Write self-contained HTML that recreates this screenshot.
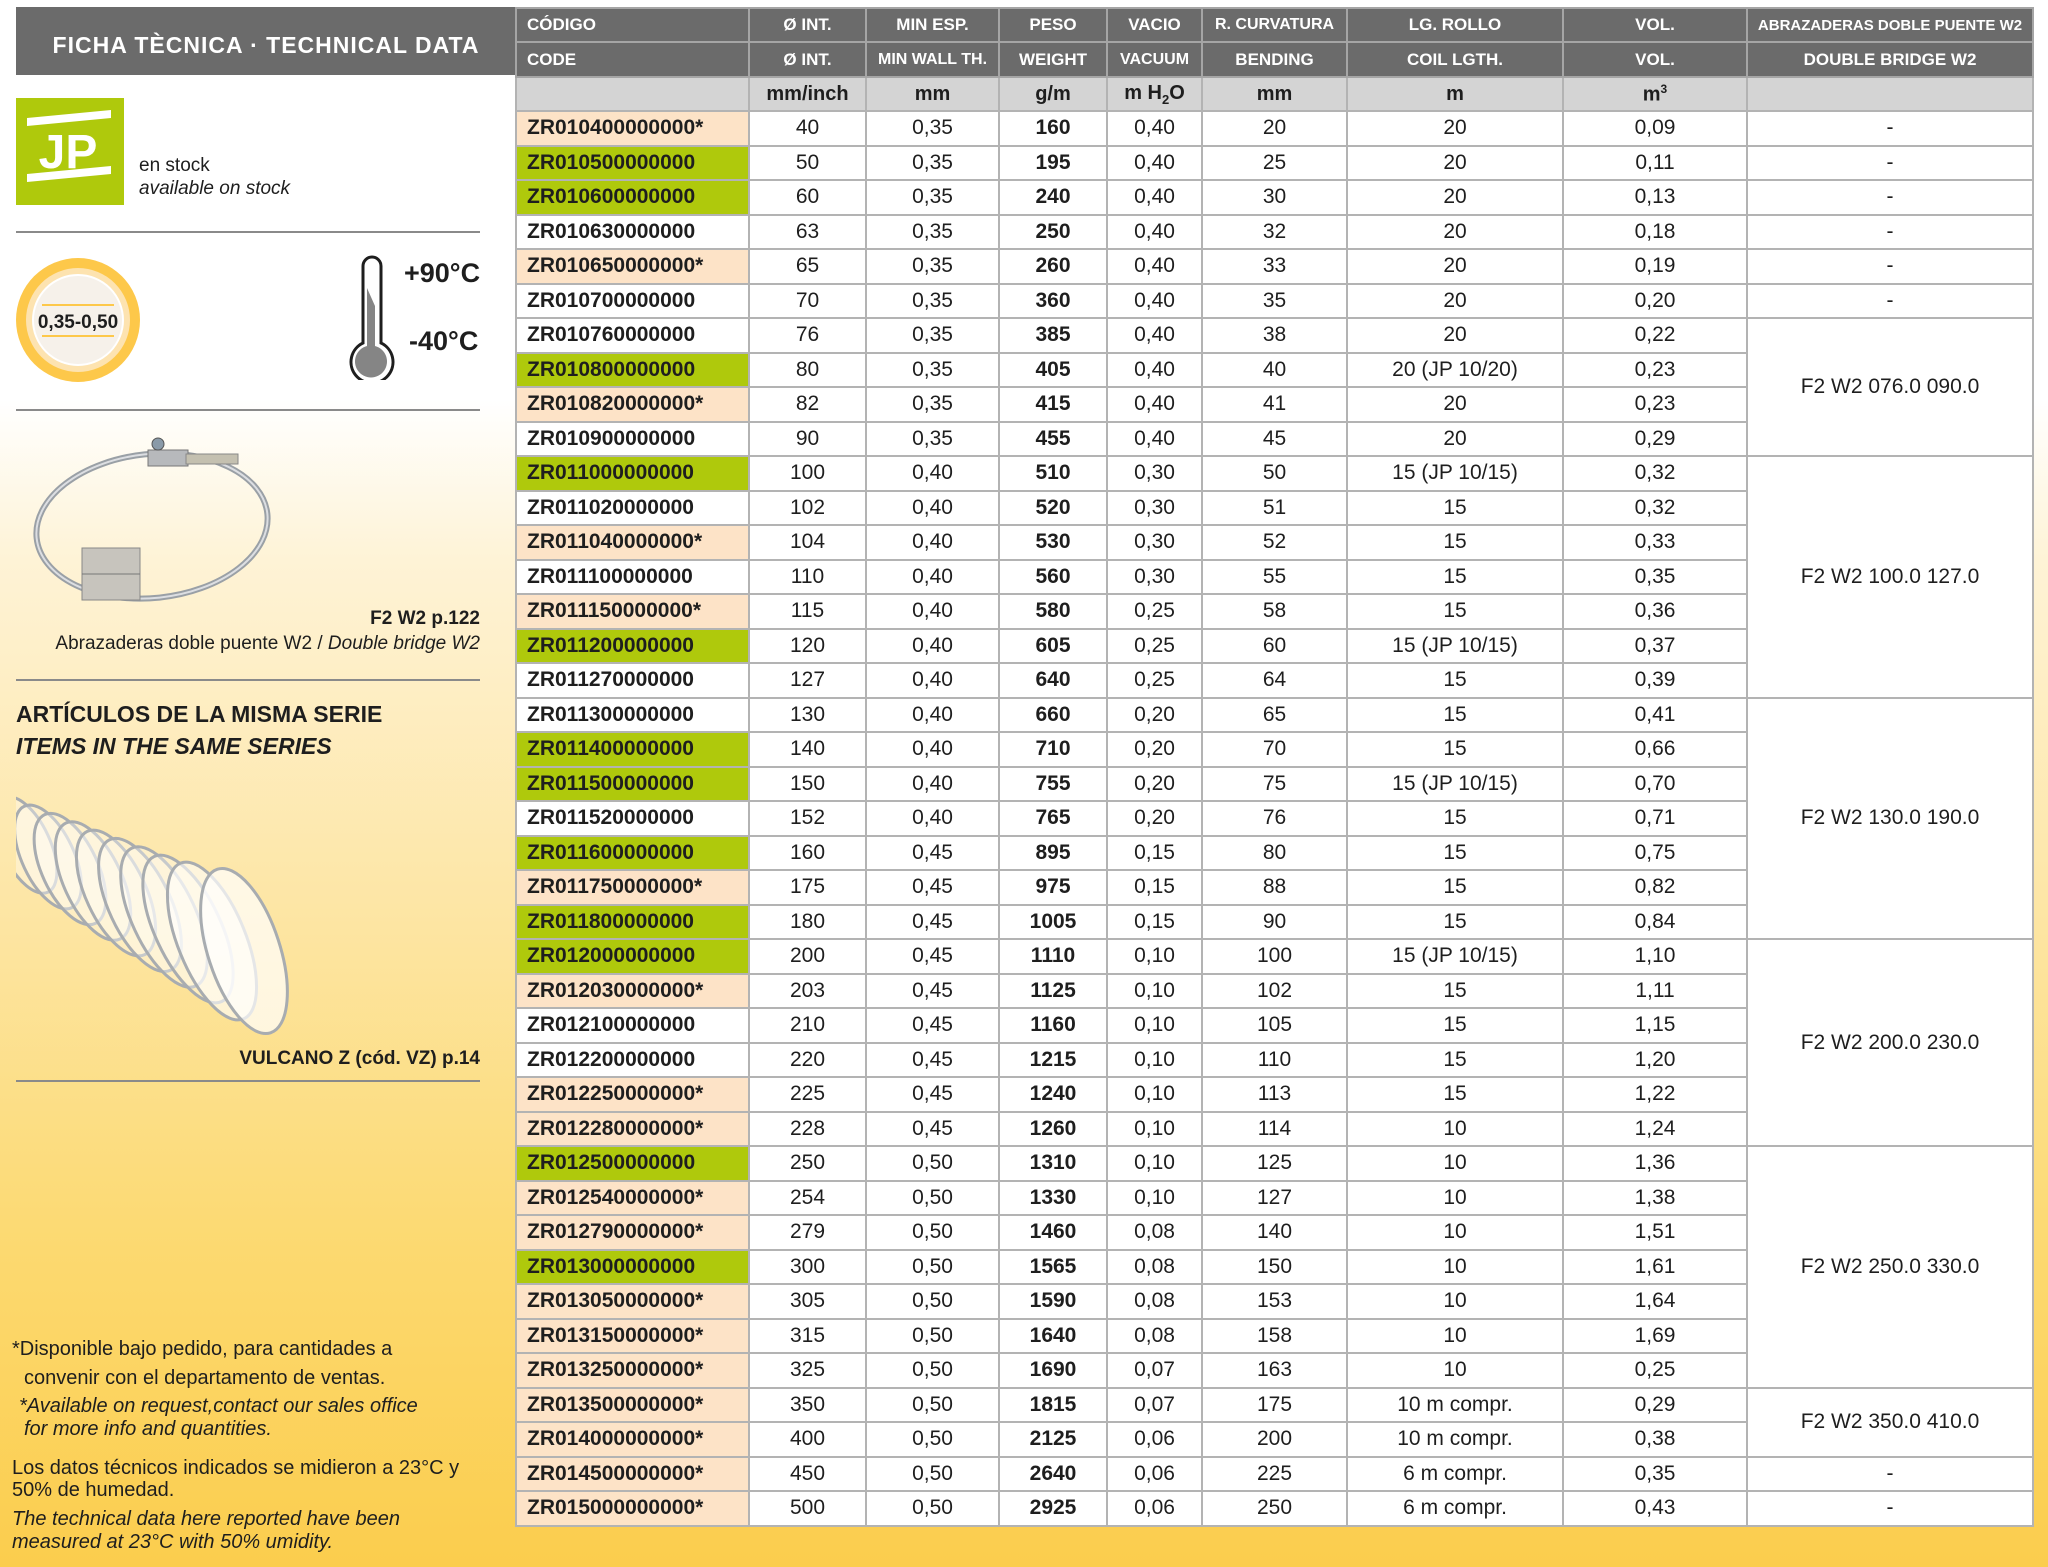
<!DOCTYPE html>
<html><head><meta charset="utf-8">
<style>
*{margin:0;padding:0;box-sizing:border-box}
html,body{width:2048px;height:1567px;overflow:hidden}
body{position:relative;font-family:"Liberation Sans Narrow","Liberation Sans",sans-serif;font-stretch:condensed;color:#1e1e1e;
background:linear-gradient(180deg,#fff 0px,#fff 400px,#fef3d6 560px,#fde6a6 900px,#fcd970 1250px,#fbcd4d 1567px);}
.abs{position:absolute}
#title{left:16px;top:7px;width:500px;height:68px;background:#6b6b6b;color:#fff;font-family:"Liberation Sans",sans-serif;font-weight:bold;font-size:23px;letter-spacing:1px;text-align:center;line-height:76px}
.hr{position:absolute;left:16px;width:464px;height:2px;background:#8a8a8a}
table{position:absolute;left:515px;top:7px;border-collapse:collapse;table-layout:fixed;width:1517px}
td{border:2px solid #b3b3b3;text-align:center;font-size:21px;white-space:nowrap;overflow:hidden;padding:0;background:#fff}
tr.h td{background:#6b6b6b;color:#fff;font-weight:bold;font-size:17px;border-color:#a5a5a5}
tr.u td{background:#d4d4d4;font-weight:bold;font-size:20px}
tr.d{height:34.5px}
td.c{text-align:left;padding-left:10px;font-weight:bold;font-size:21px}
td.o{background:#fde3c7}
td.g{background:#afc90c}
td.b{font-weight:bold}
.ft{position:absolute;left:12px;font-size:20px;line-height:22px}
</style></head><body>

<div id="title" class="abs">FICHA TÈCNICA · TECHNICAL DATA</div>

<div class="abs" style="left:16px;top:98px;width:108px;height:107px;background:#afc90c">
<svg width="108" height="107" viewBox="0 0 108 107">
<polygon points="11,20 95,12 95,20 11,28" fill="#fff"/>
<polygon points="11,76 95,68 95,76 11,84" fill="#fff"/>
<text x="52" y="70" text-anchor="middle" font-family="Liberation Sans" font-weight="bold" font-size="48" fill="#fff">JP</text>
</svg></div>
<div class="abs" style="left:139px;top:154px;font-family:'Liberation Sans',sans-serif;font-size:19px;line-height:23px">en stock<br><i>available on stock</i></div>
<div class="hr" style="top:231px"></div>

<svg class="abs" style="left:14px;top:256px" width="130" height="130">
<circle cx="64" cy="64" r="62" fill="#fdc84a"/>
<circle cx="64" cy="64" r="52" fill="#fde3b0"/>
<circle cx="64" cy="64" r="45" fill="#f6f1ea" stroke="#fff" stroke-width="2"/>
<line x1="28" y1="49" x2="100" y2="49" stroke="#fdc84a" stroke-width="2"/>
<line x1="28" y1="80" x2="100" y2="80" stroke="#fdc84a" stroke-width="2"/>
<text x="64" y="72" text-anchor="middle" font-family="Liberation Sans" font-weight="bold" font-size="19" fill="#1e1e1e">0,35-0,50</text>
</svg>

<svg class="abs" style="left:345px;top:248px" width="60" height="132">
<path d="M18,18 a9,9 0 0 1 18,0 V95 a21,21 0 1 1 -18,0 Z" fill="#fff" stroke="#1e1e1e" stroke-width="3"/>
<path d="M22,40 L30,58 V98 a16,16 0 1 1 -8,0 Z" fill="#858585"/>
</svg>
<div class="abs" style="left:404px;top:258px;font-family:'Liberation Sans',sans-serif;font-weight:bold;font-size:27px;line-height:30px">+90°C</div>
<div class="abs" style="left:409px;top:326px;font-family:'Liberation Sans',sans-serif;font-weight:bold;font-size:27px;line-height:30px">-40°C</div>
<div class="hr" style="top:409px"></div>

<svg class="abs" style="left:30px;top:436px" width="250" height="175">
<ellipse cx="122" cy="90" rx="116" ry="72" fill="none" stroke="#9aa0a6" stroke-width="6" transform="rotate(-6 122 90)"/>
<ellipse cx="122" cy="90" rx="116" ry="72" fill="none" stroke="#dcdee2" stroke-width="2" transform="rotate(-6 122 90)"/>
<rect x="118" y="14" width="40" height="16" fill="#b7b9bc" stroke="#777"/>
<rect x="156" y="18" width="52" height="10" fill="#c4c0b0" stroke="#888"/>
<circle cx="128" cy="8" r="6" fill="#8a9aa8" stroke="#555"/>
<rect x="52" y="112" width="58" height="52" fill="#c7c4bd" stroke="#888"/>
<line x1="52" y1="138" x2="110" y2="138" stroke="#777"/>
</svg>
<div class="abs" style="left:16px;top:607px;width:464px;text-align:right;font-family:'Liberation Sans',sans-serif;font-weight:bold;font-size:19px;line-height:24px">F2 W2 p.122</div>
<div class="abs" style="left:16px;top:632px;width:464px;text-align:right;font-family:'Liberation Sans',sans-serif;font-size:19px;line-height:24px">Abrazaderas doble puente W2 / <i>Double bridge W2</i></div>
<div class="hr" style="top:679px"></div>
<div class="abs" style="left:16px;top:698px;font-family:'Liberation Sans',sans-serif;font-weight:bold;font-size:23px;line-height:32px">ARTÍCULOS DE LA MISMA SERIE<br><i>ITEMS IN THE SAME SERIES</i></div>

<svg class="abs" style="left:16px;top:795px" width="280" height="250">
<g fill="rgba(255,255,255,0.35)" stroke="#a8acb0" stroke-width="3">
<ellipse cx="10" cy="50" rx="24" ry="52" transform="rotate(-25 10 50)"/>
<ellipse cx="32" cy="62" rx="26" ry="56" transform="rotate(-25 32 62)"/>
<ellipse cx="54" cy="74" rx="28" ry="60" transform="rotate(-25 54 74)"/>
<ellipse cx="77" cy="86" rx="29" ry="64" transform="rotate(-25 77 86)"/>
<ellipse cx="100" cy="98" rx="30" ry="68" transform="rotate(-25 100 98)"/>
<ellipse cx="124" cy="110" rx="31" ry="72" transform="rotate(-25 124 110)"/>
<ellipse cx="148" cy="122" rx="32" ry="76" transform="rotate(-25 148 122)"/>
<ellipse cx="172" cy="134" rx="33" ry="80" transform="rotate(-25 172 134)"/>
<ellipse cx="196" cy="146" rx="34" ry="84" transform="rotate(-22 196 146)" fill="rgba(255,255,255,0.6)"/>
<ellipse cx="228" cy="156" rx="36" ry="86" transform="rotate(-18 228 156)" fill="rgba(255,255,255,0.7)"/>
</g></svg>
<div class="abs" style="left:16px;top:1047px;width:464px;text-align:right;font-family:'Liberation Sans',sans-serif;font-weight:bold;font-size:19px;line-height:24px">VULCANO Z (cód. VZ) p.14</div>
<div class="hr" style="top:1080px"></div>

<div class="ft" style="top:1338px">*Disponible bajo pedido, para cantidades a</div>
<div class="ft" style="top:1367px;left:24px">convenir con el departamento de ventas.</div>
<div class="ft" style="top:1395px;left:19px"><i>*Available on request,contact our sales office</i></div>
<div class="ft" style="top:1418px;left:24px"><i>for more info and quantities.</i></div>
<div class="ft" style="top:1457px">Los datos técnicos indicados se midieron a 23°C y</div>
<div class="ft" style="top:1479px">50% de humedad.</div>
<div class="ft" style="top:1508px"><i>The technical data here reported have been</i></div>
<div class="ft" style="top:1531px"><i>measured at 23°C with 50% umidity.</i></div>

<table>
<colgroup><col style="width:233px"><col style="width:117px"><col style="width:133px"><col style="width:108px"><col style="width:95px"><col style="width:145px"><col style="width:216px"><col style="width:184px"><col style="width:286px"></colgroup>
<tr class="h" style="height:34px"><td style="text-align:left;padding-left:10px">CÓDIGO</td><td>Ø INT.</td><td>MIN ESP.</td><td>PESO</td><td>VACIO</td><td style="font-size:16px">R. CURVATURA</td><td>LG. ROLLO</td><td>VOL.</td><td style="font-size:15px">ABRAZADERAS DOBLE PUENTE W2</td></tr>
<tr class="h" style="height:35px"><td style="text-align:left;padding-left:10px">CODE</td><td>Ø INT.</td><td style="font-size:16px">MIN WALL TH.</td><td>WEIGHT</td><td style="font-size:16px">VACUUM</td><td>BENDING</td><td>COIL LGTH.</td><td>VOL.</td><td>DOUBLE BRIDGE W2</td></tr>
<tr class="u" style="height:34px"><td></td><td>mm/inch</td><td>mm</td><td>g/m</td><td>m H<sub style="font-size:13px">2</sub>O</td><td>mm</td><td>m</td><td>m<sup style="font-size:12px">3</sup></td><td></td></tr>
<tr class="d"><td class="c o">ZR010400000000*</td><td>40</td><td>0,35</td><td class="b">160</td><td>0,40</td><td>20</td><td>20</td><td>0,09</td><td>-</td></tr>
<tr class="d"><td class="c g">ZR010500000000</td><td>50</td><td>0,35</td><td class="b">195</td><td>0,40</td><td>25</td><td>20</td><td>0,11</td><td>-</td></tr>
<tr class="d"><td class="c g">ZR010600000000</td><td>60</td><td>0,35</td><td class="b">240</td><td>0,40</td><td>30</td><td>20</td><td>0,13</td><td>-</td></tr>
<tr class="d"><td class="c">ZR010630000000</td><td>63</td><td>0,35</td><td class="b">250</td><td>0,40</td><td>32</td><td>20</td><td>0,18</td><td>-</td></tr>
<tr class="d"><td class="c o">ZR010650000000*</td><td>65</td><td>0,35</td><td class="b">260</td><td>0,40</td><td>33</td><td>20</td><td>0,19</td><td>-</td></tr>
<tr class="d"><td class="c">ZR010700000000</td><td>70</td><td>0,35</td><td class="b">360</td><td>0,40</td><td>35</td><td>20</td><td>0,20</td><td>-</td></tr>
<tr class="d"><td class="c">ZR010760000000</td><td>76</td><td>0,35</td><td class="b">385</td><td>0,40</td><td>38</td><td>20</td><td>0,22</td><td rowspan="4">F2 W2 076.0 090.0</td></tr>
<tr class="d"><td class="c g">ZR010800000000</td><td>80</td><td>0,35</td><td class="b">405</td><td>0,40</td><td>40</td><td>20 (JP 10/20)</td><td>0,23</td></tr>
<tr class="d"><td class="c o">ZR010820000000*</td><td>82</td><td>0,35</td><td class="b">415</td><td>0,40</td><td>41</td><td>20</td><td>0,23</td></tr>
<tr class="d"><td class="c">ZR010900000000</td><td>90</td><td>0,35</td><td class="b">455</td><td>0,40</td><td>45</td><td>20</td><td>0,29</td></tr>
<tr class="d"><td class="c g">ZR011000000000</td><td>100</td><td>0,40</td><td class="b">510</td><td>0,30</td><td>50</td><td>15 (JP 10/15)</td><td>0,32</td><td rowspan="7">F2 W2 100.0 127.0</td></tr>
<tr class="d"><td class="c">ZR011020000000</td><td>102</td><td>0,40</td><td class="b">520</td><td>0,30</td><td>51</td><td>15</td><td>0,32</td></tr>
<tr class="d"><td class="c o">ZR011040000000*</td><td>104</td><td>0,40</td><td class="b">530</td><td>0,30</td><td>52</td><td>15</td><td>0,33</td></tr>
<tr class="d"><td class="c">ZR011100000000</td><td>110</td><td>0,40</td><td class="b">560</td><td>0,30</td><td>55</td><td>15</td><td>0,35</td></tr>
<tr class="d"><td class="c o">ZR011150000000*</td><td>115</td><td>0,40</td><td class="b">580</td><td>0,25</td><td>58</td><td>15</td><td>0,36</td></tr>
<tr class="d"><td class="c g">ZR011200000000</td><td>120</td><td>0,40</td><td class="b">605</td><td>0,25</td><td>60</td><td>15 (JP 10/15)</td><td>0,37</td></tr>
<tr class="d"><td class="c">ZR011270000000</td><td>127</td><td>0,40</td><td class="b">640</td><td>0,25</td><td>64</td><td>15</td><td>0,39</td></tr>
<tr class="d"><td class="c">ZR011300000000</td><td>130</td><td>0,40</td><td class="b">660</td><td>0,20</td><td>65</td><td>15</td><td>0,41</td><td rowspan="7">F2 W2 130.0 190.0</td></tr>
<tr class="d"><td class="c g">ZR011400000000</td><td>140</td><td>0,40</td><td class="b">710</td><td>0,20</td><td>70</td><td>15</td><td>0,66</td></tr>
<tr class="d"><td class="c g">ZR011500000000</td><td>150</td><td>0,40</td><td class="b">755</td><td>0,20</td><td>75</td><td>15 (JP 10/15)</td><td>0,70</td></tr>
<tr class="d"><td class="c">ZR011520000000</td><td>152</td><td>0,40</td><td class="b">765</td><td>0,20</td><td>76</td><td>15</td><td>0,71</td></tr>
<tr class="d"><td class="c g">ZR011600000000</td><td>160</td><td>0,45</td><td class="b">895</td><td>0,15</td><td>80</td><td>15</td><td>0,75</td></tr>
<tr class="d"><td class="c o">ZR011750000000*</td><td>175</td><td>0,45</td><td class="b">975</td><td>0,15</td><td>88</td><td>15</td><td>0,82</td></tr>
<tr class="d"><td class="c g">ZR011800000000</td><td>180</td><td>0,45</td><td class="b">1005</td><td>0,15</td><td>90</td><td>15</td><td>0,84</td></tr>
<tr class="d"><td class="c g">ZR012000000000</td><td>200</td><td>0,45</td><td class="b">1110</td><td>0,10</td><td>100</td><td>15 (JP 10/15)</td><td>1,10</td><td rowspan="6">F2 W2 200.0 230.0</td></tr>
<tr class="d"><td class="c o">ZR012030000000*</td><td>203</td><td>0,45</td><td class="b">1125</td><td>0,10</td><td>102</td><td>15</td><td>1,11</td></tr>
<tr class="d"><td class="c">ZR012100000000</td><td>210</td><td>0,45</td><td class="b">1160</td><td>0,10</td><td>105</td><td>15</td><td>1,15</td></tr>
<tr class="d"><td class="c">ZR012200000000</td><td>220</td><td>0,45</td><td class="b">1215</td><td>0,10</td><td>110</td><td>15</td><td>1,20</td></tr>
<tr class="d"><td class="c o">ZR012250000000*</td><td>225</td><td>0,45</td><td class="b">1240</td><td>0,10</td><td>113</td><td>15</td><td>1,22</td></tr>
<tr class="d"><td class="c o">ZR012280000000*</td><td>228</td><td>0,45</td><td class="b">1260</td><td>0,10</td><td>114</td><td>10</td><td>1,24</td></tr>
<tr class="d"><td class="c g">ZR012500000000</td><td>250</td><td>0,50</td><td class="b">1310</td><td>0,10</td><td>125</td><td>10</td><td>1,36</td><td rowspan="7">F2 W2 250.0 330.0</td></tr>
<tr class="d"><td class="c o">ZR012540000000*</td><td>254</td><td>0,50</td><td class="b">1330</td><td>0,10</td><td>127</td><td>10</td><td>1,38</td></tr>
<tr class="d"><td class="c o">ZR012790000000*</td><td>279</td><td>0,50</td><td class="b">1460</td><td>0,08</td><td>140</td><td>10</td><td>1,51</td></tr>
<tr class="d"><td class="c g">ZR013000000000</td><td>300</td><td>0,50</td><td class="b">1565</td><td>0,08</td><td>150</td><td>10</td><td>1,61</td></tr>
<tr class="d"><td class="c o">ZR013050000000*</td><td>305</td><td>0,50</td><td class="b">1590</td><td>0,08</td><td>153</td><td>10</td><td>1,64</td></tr>
<tr class="d"><td class="c o">ZR013150000000*</td><td>315</td><td>0,50</td><td class="b">1640</td><td>0,08</td><td>158</td><td>10</td><td>1,69</td></tr>
<tr class="d"><td class="c o">ZR013250000000*</td><td>325</td><td>0,50</td><td class="b">1690</td><td>0,07</td><td>163</td><td>10</td><td>0,25</td></tr>
<tr class="d"><td class="c o">ZR013500000000*</td><td>350</td><td>0,50</td><td class="b">1815</td><td>0,07</td><td>175</td><td>10 m compr.</td><td>0,29</td><td rowspan="2">F2 W2 350.0 410.0</td></tr>
<tr class="d"><td class="c o">ZR014000000000*</td><td>400</td><td>0,50</td><td class="b">2125</td><td>0,06</td><td>200</td><td>10 m compr.</td><td>0,38</td></tr>
<tr class="d"><td class="c o">ZR014500000000*</td><td>450</td><td>0,50</td><td class="b">2640</td><td>0,06</td><td>225</td><td>6 m compr.</td><td>0,35</td><td>-</td></tr>
<tr class="d"><td class="c o">ZR015000000000*</td><td>500</td><td>0,50</td><td class="b">2925</td><td>0,06</td><td>250</td><td>6 m compr.</td><td>0,43</td><td>-</td></tr>
</table>
</body></html>
